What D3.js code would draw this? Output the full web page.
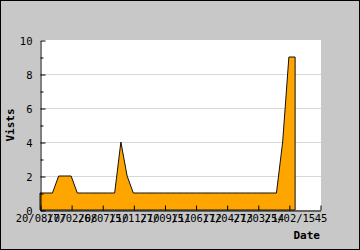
<!DOCTYPE html>
<html>
<head>
<meta charset="utf-8">
<script src="https://cdn.jsdelivr.net/npm/d3@7"></script>
<style>
body{margin:0;background:#fff}
svg{display:block}
</style>
</head>
<body>
<svg id="svg" width="360" height="250"></svg>
<script>
// one value per day with visits
var visits = [1,1,1,2,2,2,1,1,1,1,1,1,1,4,2,1,1,1,1,1,1,1,1,1,1,1,1,1,1,1,1,1,1,1,1,1,1,1,1,4,9,9];
// labels on every 5th point (overlapping, as in the original)
var tickLabels = ["20/08/07","17/02/08","26/07/10","15/11/10","27/09/11","15/06/12","17/04/13","27/03/14","25/02/15"];
var yMajor = [0,2,4,6,8,10];
var yMinor = [1,3,5,7,9];
var yGrid = [2,4,6,8];

var svg = d3.select("#svg");
var mono = "'DejaVu Sans Mono', monospace";

// fond gris + cadre
svg.append("rect")
	.attr("x",0.5).attr("y",0.5)
	.attr("width",359).attr("height",249)
	.attr("fill","#c8c8c8")
	.attr("stroke","#000");

// zone du graphe
svg.append("rect")
	.attr("x",40).attr("y",40)
	.attr("width",281).attr("height",170)
	.attr("fill","#fff");

var scaleX = d3.scaleLinear();
scaleX.domain([0,45]);
scaleX.range([40,320]);

var scaleY = d3.scaleLinear();
scaleY.domain([0,10]);
scaleY.range([210,40]);

// grille
svg.selectAll(".grid")
	.data(yGrid)
	.enter()
	.append("line")
	.attr("x1",40).attr("x2",321)
	.attr("y1",function(d){ return Math.round(scaleY(d))+0.5; })
	.attr("y2",function(d){ return Math.round(scaleY(d))+0.5; })
	.attr("stroke","#d8d8d8");

// aire
var area = d3.area()
	.x(function(d,i){ return scaleX(i); })
	.y0(scaleY(0))
	.y1(function(d){ return scaleY(d); });

svg.append("path")
	.datum(visits)
	.attr("d",area)
	.attr("fill","#ffa500")
	.attr("stroke","#111")
	.attr("stroke-width",1)
	.attr("stroke-linejoin","miter");

// axe Y
var axisY = d3.axisLeft(scaleY).tickValues(yMajor).tickSizeInner(-5).tickSizeOuter(0).tickPadding(8);
var gAxisY = svg.append("g").attr("transform","translate(40.5,0.5)");
gAxisY.call(axisY);
var axisYm = d3.axisLeft(scaleY).tickValues(yMinor).tickSizeInner(-3).tickSizeOuter(0).tickFormat("");
var gAxisYm = svg.append("g").attr("transform","translate(40.5,0.5)");
gAxisYm.call(axisYm);
gAxisYm.select(".domain").remove();
gAxisY.selectAll("text").attr("dy","0.42em");

// axe X
var axisX = d3.axisBottom(scaleX)
	.tickValues(d3.range(0,46,5))
	.tickSizeInner(-5).tickSizeOuter(0).tickPadding(4)
	.tickFormat(function(d,i){ return i < tickLabels.length ? tickLabels[i] : d; });
var gAxisX = svg.append("g").attr("transform","translate(0.5,210.5)");
gAxisX.call(axisX);

svg.selectAll(".tick text").attr("font-family",mono).attr("font-size","10.5px").attr("fill","#000");
svg.selectAll(".tick line, .domain").attr("stroke","#000");

// titres des axes
svg.append("text")
	.attr("transform","translate(14,125) rotate(-90)")
	.attr("text-anchor","middle")
	.attr("font-family",mono).attr("font-size","11px").attr("font-weight","bold")
	.text("Vists");

svg.append("text")
	.attr("text-anchor","end")
	.attr("x",320).attr("y",239)
	.attr("font-family",mono).attr("font-size","11px").attr("font-weight","bold")
	.text("Date");
</script>
</body>
</html>
